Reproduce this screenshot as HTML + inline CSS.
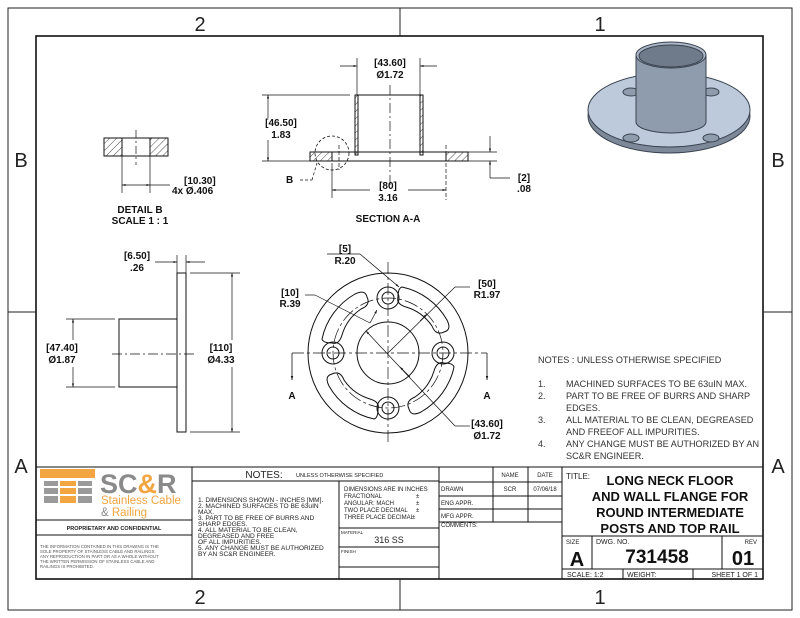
<!DOCTYPE html>
<html><head><meta charset="utf-8"><style>
html,body{margin:0;padding:0;background:#fff}
svg{display:block}
text{font-family:"Liberation Sans",Arial,sans-serif}
.d{font-weight:bold;font-size:10px;fill:#111}
.tb{font-size:6px;fill:#222}
</style></head><body>
<svg width="800" height="618" viewBox="0 0 800 618" xmlns="http://www.w3.org/2000/svg">
<defs>
<pattern id="h" width="5" height="5" patternUnits="userSpaceOnUse" patternTransform="rotate(45)"><line x1="0" y1="0" x2="0" y2="5" stroke="#222" stroke-width="0.8"/></pattern>
<marker id="ar" viewBox="0 0 10 10" refX="10" refY="5" markerWidth="7" markerHeight="5" orient="auto-start-reverse"><path d="M0,2 L10,5 L0,8z" fill="#111"/></marker>
</defs>
<rect x="0" y="0" width="800" height="618" fill="#fff"/>
<rect x="8" y="8" width="784" height="602" fill="none" stroke="#222" stroke-width="1"/>
<rect x="36" y="36" width="727" height="543" fill="none" stroke="#111" stroke-width="1.6"/>
<g stroke="#222" stroke-width="1">
<line x1="400" y1="8" x2="400" y2="36"/><line x1="400" y1="579" x2="400" y2="610"/>
<line x1="8" y1="312" x2="36" y2="312"/><line x1="763" y1="312" x2="792" y2="312"/>
</g>
<g font-size="20" fill="#222" text-anchor="middle">
<text x="200" y="31">2</text><text x="600" y="31">1</text>
<text x="200" y="604">2</text><text x="600" y="604">1</text>
<text x="21" y="167">B</text><text x="778" y="167">B</text>
<text x="21" y="473">A</text><text x="778" y="473">A</text>
</g>

<!-- DETAIL B -->
<g stroke="#111" stroke-width="1" fill="none">
<rect x="104" y="138" width="18" height="18" fill="url(#h)"/>
<rect x="150" y="138" width="18" height="18" fill="url(#h)"/>
<line x1="104" y1="138" x2="168" y2="138"/><line x1="104" y1="156" x2="168" y2="156"/>
<line x1="136" y1="130" x2="136" y2="165" stroke-dasharray="8,3,2,3" stroke-width="0.7"/>
<line x1="122" y1="156" x2="122" y2="193" stroke-width="0.7"/><line x1="150" y1="156" x2="150" y2="193" stroke-width="0.7"/>
<line x1="122" y1="185" x2="150" y2="185" stroke-width="0.7" marker-start="url(#ar)" marker-end="url(#ar)"/>
<line x1="150" y1="185" x2="170" y2="185" stroke-width="0.7"/>
</g>
<text class="d" x="184" y="184">[10.30]</text>
<text class="d" x="172" y="194">4x Ø.406</text>
<text class="d" x="140" y="213" text-anchor="middle">DETAIL B</text>
<text class="d" x="140" y="224" text-anchor="middle">SCALE 1 : 1</text>

<!-- SECTION A-A -->
<g stroke="#111" stroke-width="1" fill="none">
<rect x="310" y="152" width="158" height="9"/>
<rect x="310" y="152" width="22" height="9" fill="url(#h)"/>
<rect x="446" y="152" width="22" height="9" fill="url(#h)"/>
<rect x="355" y="95" width="3" height="60" fill="url(#h)"/>
<rect x="420" y="95" width="3" height="60" fill="url(#h)"/>
<line x1="355" y1="95" x2="423" y2="95"/>
<line x1="390" y1="85" x2="390" y2="185" stroke-dasharray="10,3,2,3" stroke-width="0.7"/>
<line x1="339" y1="145" x2="339" y2="170" stroke-dasharray="4,2" stroke-width="0.7"/>
<line x1="446" y1="145" x2="446" y2="200" stroke-dasharray="4,2" stroke-width="0.7"/>
<circle cx="332" cy="153" r="17" stroke-dasharray="3,2" stroke-width="0.8"/>
<line x1="300" y1="180" x2="312" y2="180" stroke-dasharray="3,2" stroke-width="0.7"/>
<line x1="312" y1="180" x2="317" y2="163" stroke-dasharray="3,2" stroke-width="0.7"/>
<line x1="357" y1="58" x2="357" y2="95" stroke-width="0.7"/><line x1="420" y1="58" x2="420" y2="95" stroke-width="0.7"/>
<line x1="340" y1="66" x2="357" y2="66" stroke-width="0.7" marker-end="url(#ar)"/>
<line x1="437" y1="66" x2="420" y2="66" stroke-width="0.7" marker-end="url(#ar)"/>
<line x1="262" y1="95" x2="350" y2="95" stroke-width="0.7"/><line x1="262" y1="161" x2="310" y2="161" stroke-width="0.7"/>
<line x1="268" y1="118" x2="268" y2="95" stroke-width="0.7" marker-end="url(#ar)"/>
<line x1="268" y1="140" x2="268" y2="161" stroke-width="0.7" marker-end="url(#ar)"/>
<line x1="332" y1="163" x2="332" y2="198" stroke-width="0.7"/>
<line x1="370" y1="190" x2="332" y2="190" stroke-width="0.7" marker-end="url(#ar)"/>
<line x1="408" y1="190" x2="446" y2="190" stroke-width="0.7" marker-end="url(#ar)"/>
<line x1="468" y1="152" x2="497" y2="152" stroke-width="0.7"/><line x1="468" y1="161" x2="497" y2="161" stroke-width="0.7"/>
<line x1="490" y1="136" x2="490" y2="152" stroke-width="0.7" marker-end="url(#ar)"/>
<line x1="490" y1="178" x2="490" y2="161" stroke-width="0.7" marker-end="url(#ar)"/>
<line x1="490" y1="178" x2="510" y2="178" stroke-width="0.7"/>
</g>
<text class="d" x="390" y="66" text-anchor="middle">[43.60]</text>
<text class="d" x="390" y="78" text-anchor="middle">Ø1.72</text>
<text class="d" x="281" y="126" text-anchor="middle">[46.50]</text>
<text class="d" x="281" y="138" text-anchor="middle">1.83</text>
<text class="d" x="286" y="183">B</text>
<text class="d" x="388" y="189" text-anchor="middle">[80]</text>
<text class="d" x="388" y="201" text-anchor="middle">3.16</text>
<text class="d" x="388" y="222" text-anchor="middle">SECTION A-A</text>
<text class="d" x="524" y="181" text-anchor="middle">[2]</text>
<text class="d" x="524" y="192" text-anchor="middle">.08</text>

<!-- SIDE VIEW -->
<g stroke="#111" stroke-width="1" fill="none">
<rect x="177" y="273" width="9" height="159"/>
<rect x="119" y="319" width="58" height="68"/>
<line x1="112" y1="354" x2="195" y2="354" stroke-dasharray="10,3,2,3" stroke-width="0.7"/>
<line x1="66" y1="319" x2="115" y2="319" stroke-width="0.7"/><line x1="66" y1="387" x2="115" y2="387" stroke-width="0.7"/>
<line x1="73" y1="340" x2="73" y2="319" stroke-width="0.7" marker-end="url(#ar)"/>
<line x1="73" y1="367" x2="73" y2="387" stroke-width="0.7" marker-end="url(#ar)"/>
<line x1="190" y1="273" x2="240" y2="273" stroke-width="0.7"/><line x1="190" y1="432" x2="240" y2="432" stroke-width="0.7"/>
<line x1="232" y1="340" x2="232" y2="273" stroke-width="0.7" marker-end="url(#ar)"/>
<line x1="232" y1="367" x2="232" y2="432" stroke-width="0.7" marker-end="url(#ar)"/>
<line x1="177" y1="255" x2="177" y2="273" stroke-width="0.7"/><line x1="186" y1="255" x2="186" y2="273" stroke-width="0.7"/>
<line x1="155" y1="262" x2="177" y2="262" stroke-width="0.7" marker-end="url(#ar)"/>
<line x1="205" y1="262" x2="186" y2="262" stroke-width="0.7" marker-end="url(#ar)"/>
</g>
<text class="d" x="137" y="259" text-anchor="middle">[6.50]</text>
<text class="d" x="137" y="271" text-anchor="middle">.26</text>
<text class="d" x="62" y="351" text-anchor="middle">[47.40]</text>
<text class="d" x="62" y="363" text-anchor="middle">Ø1.87</text>
<text class="d" x="221" y="351" text-anchor="middle">[110]</text>
<text class="d" x="221" y="363" text-anchor="middle">Ø4.33</text>

<!-- FRONT VIEW -->
<g stroke="#111" stroke-width="1" fill="none">
<circle cx="388" cy="353" r="80"/>
<circle cx="388" cy="353" r="31"/>
<circle cx="388" cy="353" r="55" stroke-dasharray="14,3,3,3" stroke-width="0.7"/>
<g id="slot">
<path d="M402,287 A68,68 0 0 1 447,320 Q452,330 444,332 Q436,336 432,326 A48,48 0 0 0 406,307 Q396,304 398,297 Q398,288 402,287 Z" />
</g>
<use href="#slot" transform="rotate(90 388 353)"/>
<use href="#slot" transform="rotate(180 388 353)"/>
<use href="#slot" transform="rotate(270 388 353)"/>
<circle cx="388" cy="298" r="11"/><circle cx="388" cy="298" r="6"/>
<circle cx="388" cy="408" r="11"/><circle cx="388" cy="408" r="6"/>
<circle cx="333" cy="353" r="11"/><circle cx="333" cy="353" r="6"/>
<circle cx="443" cy="353" r="11"/><circle cx="443" cy="353" r="6"/>
<line x1="388" y1="262" x2="388" y2="444" stroke-dasharray="12,3,3,3" stroke-width="0.7"/>
<line x1="292" y1="353" x2="487" y2="353" stroke-dasharray="12,3,3,3" stroke-width="0.7"/>
<line x1="292" y1="353" x2="292" y2="380" stroke-width="0.8" marker-end="url(#ar)"/>
<line x1="487" y1="353" x2="487" y2="380" stroke-width="0.8" marker-end="url(#ar)"/>
<line x1="327" y1="254" x2="360" y2="254" stroke-width="0.7"/>
<line x1="360" y1="254" x2="399" y2="287" stroke-width="0.7" marker-end="url(#ar)"/>
<line x1="305" y1="295" x2="315" y2="295" stroke-width="0.7"/>
<line x1="315" y1="295" x2="370" y2="323" stroke-width="0.7"/>
<line x1="370" y1="323" x2="377" y2="310" stroke-width="0.7" marker-end="url(#ar)"/>
<line x1="470" y1="287" x2="455" y2="287" stroke-width="0.7"/>
<line x1="455" y1="287" x2="388" y2="353" stroke-width="0.7"/>
<line x1="420" y1="321" x2="427" y2="314" stroke-width="0.7" marker-end="url(#ar)"/>
<line x1="470" y1="426" x2="455" y2="426" stroke-width="0.7"/>
<line x1="455" y1="426" x2="366" y2="331" stroke-width="0.7" marker-end="url(#ar)"/>
<line x1="400" y1="367" x2="410" y2="377" stroke-width="0.7" marker-start="url(#ar)"/>
</g>
<text class="d" x="345" y="252" text-anchor="middle">[5]</text>
<text class="d" x="345" y="264" text-anchor="middle">R.20</text>
<text class="d" x="290" y="296" text-anchor="middle">[10]</text>
<text class="d" x="290" y="307" text-anchor="middle">R.39</text>
<text class="d" x="487" y="287" text-anchor="middle">[50]</text>
<text class="d" x="487" y="298" text-anchor="middle">R1.97</text>
<text class="d" x="487" y="427" text-anchor="middle">[43.60]</text>
<text class="d" x="487" y="439" text-anchor="middle">Ø1.72</text>
<text class="d" x="292" y="399" text-anchor="middle">A</text>
<text class="d" x="487" y="399" text-anchor="middle">A</text>

<!-- 3D -->
<g stroke="#3a4350" stroke-width="1">
<ellipse cx="669" cy="116" rx="81" ry="37" fill="#7d8999"/>
<ellipse cx="669" cy="110" rx="81" ry="37" fill="#bccadb"/>
<ellipse cx="631" cy="92" rx="8" ry="4" fill="#8f9cad"/>
<ellipse cx="711" cy="92" rx="8" ry="4" fill="#8f9cad"/>
<ellipse cx="631" cy="138" rx="8" ry="4" fill="#8f9cad"/>
<ellipse cx="711" cy="138" rx="8" ry="4" fill="#8f9cad"/>
<path d="M636,55 L636,122 A35,11 0 0 0 706,122 L706,55 Z" fill="#8f9cad"/>
<ellipse cx="671" cy="55" rx="35" ry="13" fill="#aab6c5"/>
<ellipse cx="671" cy="56" rx="32" ry="11" fill="#6f7b8b"/>
</g>

<!-- NOTES RIGHT -->
<g font-size="9.1" fill="#333">
<text x="538" y="363">NOTES : UNLESS OTHERWISE SPECIFIED</text>
<text x="538" y="387">1.</text><text x="566" y="387">MACHINED SURFACES TO BE 63uIN MAX.</text>
<text x="538" y="399">2.</text><text x="566" y="399">PART TO BE FREE OF BURRS AND SHARP</text>
<text x="566" y="411">EDGES.</text>
<text x="538" y="423">3.</text><text x="566" y="423">ALL MATERIAL TO BE CLEAN, DEGREASED</text>
<text x="566" y="435">AND FREEOF ALL IMPURITIES.</text>
<text x="538" y="447">4.</text><text x="566" y="447">ANY CHANGE MUST BE AUTHORIZED BY AN</text>
<text x="566" y="459">SC&amp;R ENGINEER.</text>
</g>

<!-- TITLE BLOCK -->
<g stroke="#111" stroke-width="1" fill="none">
<line x1="36" y1="467" x2="763" y2="467"/>
<line x1="192" y1="467" x2="192" y2="579"/>
<line x1="36" y1="520" x2="192" y2="520"/><line x1="36" y1="535" x2="192" y2="535"/>
<line x1="192" y1="481" x2="439" y2="481"/>
<line x1="339" y1="481" x2="339" y2="579"/>
<line x1="339" y1="528" x2="439" y2="528"/><line x1="339" y1="547" x2="439" y2="547"/><line x1="339" y1="567" x2="439" y2="567"/>
<line x1="439" y1="467" x2="439" y2="579"/>
<line x1="493" y1="467" x2="493" y2="522"/><line x1="528" y1="467" x2="528" y2="522"/>
<line x1="439" y1="482" x2="562" y2="482"/><line x1="439" y1="496" x2="562" y2="496"/><line x1="439" y1="509" x2="562" y2="509"/><line x1="439" y1="522" x2="562" y2="522"/>
<line x1="562" y1="467" x2="562" y2="579"/>
<line x1="562" y1="536" x2="763" y2="536"/><line x1="562" y1="569" x2="763" y2="569"/>
<line x1="592" y1="536" x2="592" y2="569"/><line x1="722" y1="536" x2="722" y2="569"/>
<line x1="623" y1="569" x2="623" y2="579"/><line x1="693" y1="569" x2="693" y2="579"/>
</g>
<rect x="40" y="469" width="55" height="9" fill="#f2a540"/>
<rect x="44" y="481" width="14" height="22" fill="#9a9a9a"/>
<rect x="60" y="481" width="16" height="22" fill="#f2a540"/>
<rect x="78" y="481" width="14" height="22" fill="#9a9a9a"/>
<rect x="44" y="486" width="48" height="2" fill="#fff"/>
<rect x="44" y="494" width="48" height="2" fill="#fff"/>
<text x="100" y="493" font-size="27" font-weight="bold" fill="#8a8a8a">SC<tspan fill="#f2a540">&amp;</tspan>R</text>
<text x="101" y="504" font-size="11.5" fill="#f2a540">Stainless Cable</text>
<text x="101" y="516" font-size="11.5" fill="#8a8a8a">&amp; <tspan fill="#f2a540">Railing</tspan></text>
<text x="114" y="530" font-size="5.5" font-weight="bold" fill="#222" text-anchor="middle">PROPRIETARY AND CONFIDENTIAL</text>
<g font-size="4.3" fill="#555">
<text x="40" y="548">THE INFORMATION CONTAINED IN THIS DRAWING IS THE</text>
<text x="40" y="553">SOLE PROPERTY OF STAINLESS CABLE AND RAILINGS.</text>
<text x="40" y="558">ANY REPRODUCTION IN PART OR AS A WHOLE WITHOUT</text>
<text x="40" y="563">THE WRITTEN PERMISSION OF STAINLESS CABLE AND</text>
<text x="40" y="568">RAILINGS IS PROHIBITED.</text>
</g>
<text x="264" y="478" font-size="10" fill="#222" text-anchor="middle">NOTES:</text>
<text x="296" y="477" font-size="5.5" fill="#222">UNLESS OTHERWISE SPECIFIED</text>
<g font-size="6.6" fill="#222">
<text x="198" y="502">1. DIMENSIONS SHOWN - INCHES [MM].</text>
<text x="198" y="508">2. MACHINED SURFACES TO BE 63uIN</text>
<text x="198" y="514">MAX.</text>
<text x="198" y="520">3. PART TO BE FREE OF BURRS AND</text>
<text x="198" y="526">SHARP EDGES.</text>
<text x="198" y="532">4. ALL MATERIAL TO BE CLEAN,</text>
<text x="198" y="538">DEGREASED AND FREE</text>
<text x="198" y="544">OF ALL IMPURITIES.</text>
<text x="198" y="550">5. ANY CHANGE MUST BE AUTHORIZED</text>
<text x="198" y="556">BY AN SC&amp;R ENGINEER.</text>
</g>
<g class="tb">
<text x="344" y="491" class="tb">DIMENSIONS ARE IN INCHES</text>
<text x="344" y="498" class="tb">FRACTIONAL</text><text x="416" y="498" class="tb">±</text>
<text x="344" y="505" class="tb">ANGULAR: MACH</text><text x="416" y="505" class="tb">±</text>
<text x="344" y="512" class="tb">TWO PLACE DECIMAL</text><text x="416" y="512" class="tb">±</text>
<text x="344" y="519" class="tb">THREE PLACE DECIMAL</text><text x="412" y="519" class="tb">±</text>
<text x="341" y="534" font-size="4.5" fill="#222">MATERIAL</text>
<text x="389" y="543" font-size="9" fill="#222" text-anchor="middle">316 SS</text>
<text x="341" y="553" font-size="4.5" fill="#222">FINISH</text>
<text x="510" y="477" class="tb" text-anchor="middle">NAME</text>
<text x="545" y="477" class="tb" text-anchor="middle">DATE</text>
<text x="441" y="491" class="tb">DRAWN</text><text x="510" y="491" class="tb" text-anchor="middle">SCR</text><text x="545" y="491" class="tb" text-anchor="middle">07/06/18</text>
<text x="441" y="505" class="tb">ENG APPR.</text>
<text x="441" y="518" class="tb">MFG APPR.</text>
<text x="441" y="527" class="tb">COMMENTS:</text>
</g>
<text x="566" y="479" font-size="8" fill="#222">TITLE:</text>
<g font-size="13" font-weight="bold" fill="#111" text-anchor="middle">
<text x="670" y="485">LONG NECK FLOOR</text>
<text x="670" y="501">AND WALL FLANGE FOR</text>
<text x="670" y="517">ROUND INTERMEDIATE</text>
<text x="670" y="533">POSTS AND TOP RAIL</text>
</g>
<text x="566" y="544" font-size="6" fill="#222">SIZE</text>
<text x="577" y="566" font-size="20" font-weight="bold" fill="#111" text-anchor="middle">A</text>
<text x="596" y="544" font-size="7" fill="#222">DWG. NO.</text>
<text x="657" y="563" font-size="19" font-weight="bold" fill="#111" text-anchor="middle">731458</text>
<text x="757" y="544" font-size="6" fill="#222" text-anchor="end">REV</text>
<text x="743" y="565" font-size="20" font-weight="bold" fill="#111" text-anchor="middle">01</text>
<text x="567" y="577" font-size="7" fill="#222">SCALE: 1:2</text>
<text x="627" y="577" font-size="7" fill="#222">WEIGHT:</text>
<text x="758" y="577" font-size="7" fill="#222" text-anchor="end">SHEET 1 OF 1</text>
</svg>
</body></html>
